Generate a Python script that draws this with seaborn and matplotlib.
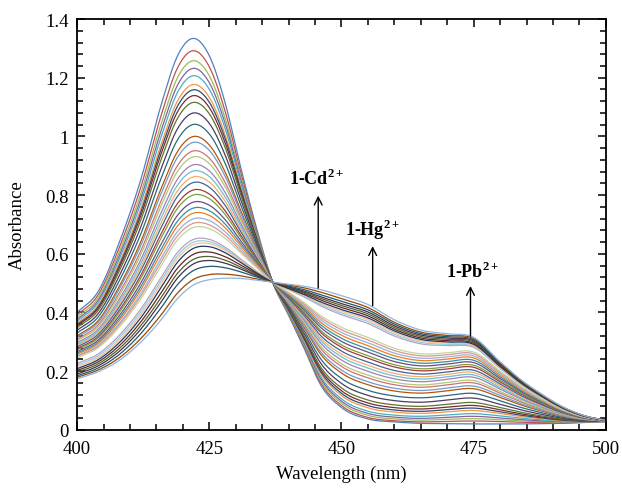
import numpy as np
import pandas as pd
import matplotlib
matplotlib.use('Agg')
import matplotlib.pyplot as plt
from matplotlib.ticker import MultipleLocator, FuncFormatter
import seaborn as sns

# ------------------------------------------------------------
# Data
# ------------------------------------------------------------
# knots of the first (highest peak) and last (lowest peak) spectra
wl_knots = [400, 404, 408, 412, 416, 419, 422, 425, 428, 431, 434, 437, 440, 443,
            446, 450, 455, 460, 465, 470, 475, 480, 484, 488, 492, 496, 500]
first_spectrum = [0.400, 0.472, 0.640, 0.850, 1.114, 1.275, 1.334, 1.275, 1.114, 0.890,
                  0.683, 0.503, 0.390, 0.275, 0.155, 0.076, 0.037, 0.027, 0.022, 0.021,
                  0.020, 0.020, 0.020, 0.021, 0.022, 0.025, 0.028]
last_spectrum = [0.174, 0.198, 0.237, 0.298, 0.378, 0.448, 0.494, 0.512, 0.517, 0.516,
                 0.510, 0.503, 0.496, 0.489, 0.478, 0.457, 0.427, 0.375, 0.340, 0.327,
                 0.315, 0.232, 0.170, 0.120, 0.077, 0.048, 0.032]

# each trace: band maximum (~422-428 nm), value at 400, 465 and 475 nm
peak_abs = [1.334, 1.292, 1.258, 1.232, 1.207, 1.177, 1.159, 1.139, 1.116, 1.080,
            1.041, 1.000, 0.980, 0.951, 0.931, 0.904, 0.883, 0.863, 0.844, 0.819,
            0.802, 0.778, 0.758, 0.741, 0.722, 0.707, 0.693,
            0.654, 0.645, 0.637, 0.626, 0.607, 0.591, 0.577, 0.557, 0.531, 0.517]
abs_400 = [0.400, 0.391, 0.383, 0.376, 0.370, 0.363, 0.358, 0.354, 0.348, 0.339,
           0.330, 0.320, 0.315, 0.308, 0.303, 0.296, 0.291, 0.287, 0.282, 0.276,
           0.272, 0.266, 0.261, 0.257, 0.252, 0.249, 0.245,
           0.226, 0.220, 0.214, 0.208, 0.202, 0.196, 0.190, 0.184, 0.179, 0.174]
abs_465 = [0.022, 0.027, 0.033, 0.039, 0.046, 0.056, 0.063, 0.071, 0.080, 0.094,
           0.109, 0.125, 0.134, 0.145, 0.153, 0.164, 0.173, 0.181, 0.190, 0.201,
           0.208, 0.218, 0.227, 0.236, 0.244, 0.252, 0.259,
           0.293, 0.298, 0.303, 0.308, 0.313, 0.318, 0.323, 0.328, 0.333, 0.340]
abs_475 = [0.020, 0.030, 0.038, 0.046, 0.055, 0.066, 0.074, 0.083, 0.093, 0.108,
           0.124, 0.140, 0.149, 0.160, 0.168, 0.179, 0.187, 0.195, 0.203, 0.213,
           0.220, 0.229, 0.237, 0.245, 0.252, 0.259, 0.265,
           0.281, 0.284, 0.287, 0.291, 0.295, 0.299, 0.303, 0.307, 0.311, 0.315]

# Excel-like series colours, in drawing order
colors = ['#4F81BD', '#C0504D', '#9BBB59', '#8064A2', '#4BACC6', '#F79646',
          '#2C4D75', '#772C2A', '#5F7530', '#4D3B62', '#276A7C', '#B65708',
          '#729ACA', '#CD7371', '#AFC97A', '#9983B5', '#6FBDD1', '#F9AB6B',
          '#3A679C', '#9F3B38', '#7E9D40', '#664F83', '#358EA6', '#F47B20',
          '#95B3D7', '#D99694', '#C3D69B', '#B3A2C7', '#93CDDD', '#FAC090',
          '#1F3864', '#632523', '#4F6228', '#3F3151', '#215968', '#984807',
          '#8EB4E3']

ion_labels = [r'1-Cd$^{\mathbf{2+}}$', r'1-Hg$^{\mathbf{2+}}$', r'1-Pb$^{\mathbf{2+}}$']


# ------------------------------------------------------------
# Smooth curves through the read knots
# ------------------------------------------------------------
def smooth(xk, yk, x):
    xk = np.asarray(xk, float)
    yk = np.asarray(yk, float)
    m = np.gradient(yk, xk)
    i = np.clip(np.searchsorted(xk, x) - 1, 0, len(xk) - 2)
    h = xk[i + 1] - xk[i]
    t = (x - xk[i]) / h
    h00 = 2 * t**3 - 3 * t**2 + 1
    h10 = t**3 - 2 * t**2 + t
    h01 = -2 * t**3 + 3 * t**2
    h11 = t**3 - t**2
    return h00 * yk[i] + h10 * h * m[i] + h01 * yk[i + 1] + h11 * h * m[i + 1]


wl = np.linspace(400, 500, 501)
A = smooth(wl_knots, first_spectrum, wl)
B = smooth(wl_knots, last_spectrum, wl)


def frac_at(w, values):
    a = smooth(wl_knots, first_spectrum, np.array([w], float))[0]
    b = smooth(wl_knots, last_spectrum, np.array([w], float))[0]
    return (np.asarray(values) - a) / (b - a)


# share of the last spectrum that gives each band maximum
f_grid = np.linspace(-0.1, 1.1, 1201)
win = (wl >= 414) & (wl <= 432)
maxima = (A[win][None, :] + f_grid[:, None] * (B[win] - A[win])[None, :]).max(axis=1)
f_peak = np.interp(peak_abs, maxima[::-1], f_grid[::-1])
f_400 = frac_at(400, abs_400)
f_465 = frac_at(465, abs_465)
f_475 = frac_at(475, abs_475)

rows = []
for k in range(len(peak_abs)):
    f = smooth([400, 423, 465, 475, 500],
               [f_400[k], f_peak[k], f_465[k], f_475[k], f_475[k]], wl)
    y = A + f * (B - A)
    rows.append(pd.DataFrame({'wl': wl, 'absorbance': y, 'trace': f'S{k:02d}'}))
df = pd.concat(rows, ignore_index=True)

# ------------------------------------------------------------
# Plot
# ------------------------------------------------------------
sns.set_style('ticks')
plt.rcParams['font.family'] = ['Liberation Serif', 'DejaVu Serif']
plt.rcParams['mathtext.fontset'] = 'custom'
plt.rcParams['mathtext.rm'] = 'Liberation Serif'
plt.rcParams['mathtext.bf'] = 'Liberation Serif:bold'
plt.rcParams['text.color'] = 'black'
plt.rcParams['axes.labelcolor'] = 'black'

fig, ax = plt.subplots(figsize=(6.22, 4.89), dpi=100)
fig.subplots_adjust(left=0.124, right=0.974, top=0.959, bottom=0.119)

sns.lineplot(data=df, x='wl', y='absorbance', hue='trace', palette=colors,
             legend=False, linewidth=0.9, estimator=None, sort=False, ax=ax)

ax.set_xlim(400, 500)
ax.set_ylim(0, 1.4)
ax.xaxis.set_major_locator(MultipleLocator(25))
ax.xaxis.set_minor_locator(MultipleLocator(5))
ax.yaxis.set_major_locator(MultipleLocator(0.2))
ax.yaxis.set_minor_locator(MultipleLocator(0.04))
ax.yaxis.set_major_formatter(FuncFormatter(lambda v, p: f'{v:g}'))

for s in ax.spines.values():
    s.set_visible(True)
    s.set_linewidth(1.3)
    s.set_color('black')
ax.tick_params(which='both', direction='in', top=True, right=True,
               color='black', width=1.1, labelsize=13.5, labelcolor='black')
ax.tick_params(which='major', length=6)
ax.tick_params(which='minor', length=4)
ax.tick_params(axis='x', which='major', pad=7)
ax.tick_params(axis='y', which='major', pad=6)

ax.set_xlabel('Wavelength (nm)', fontsize=13.5, labelpad=6)
ax.set_ylabel('Absorbance', fontsize=13.5, labelpad=14)

# arrows and ion labels
arrow_x = [445.6, 455.9, 474.4]
arrow_from = [0.483, 0.423, 0.319]
arrow_to = [0.798, 0.626, 0.490]
label_x = [445.4, 455.9, 474.9]
label_y = [0.838, 0.664, 0.520]
for lab, x, y0, y1, lx, ly in zip(ion_labels, arrow_x, arrow_from, arrow_to, label_x, label_y):
    ax.annotate('', xy=(x, y1), xytext=(x, y0),
                arrowprops=dict(arrowstyle='->', color='black', lw=1.0,
                                shrinkA=0, shrinkB=0, mutation_scale=14))
    ax.text(lx, ly, lab, fontsize=13, fontweight='bold', ha='center', va='baseline')

plt.savefig('out.png', dpi=100)
